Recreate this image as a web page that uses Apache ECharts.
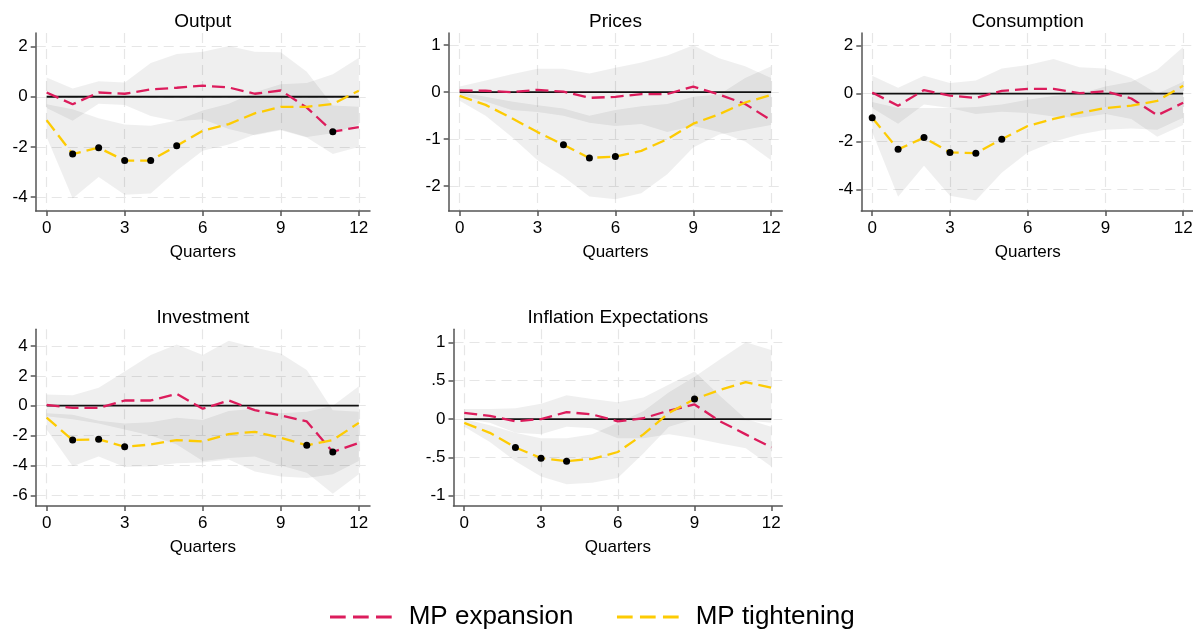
<!DOCTYPE html>
<html><head><meta charset="utf-8">
<script src="https://cdn.jsdelivr.net/npm/echarts@6/dist/echarts.min.js"></script>
<style>html,body{margin:0;padding:0;background:#fff}#c{width:1193px;height:629px}</style>
</head><body><div id="c"></div>
<script>
// ---------- data ----------
const quarters = [0,1,2,3,4,5,6,7,8,9,10,11,12];
const xTicks = [0,3,6,9,12];
const seriesNames = ['MP expansion', 'MP tightening'];

// Output
const out_exp    = [0.17,-0.30,0.17,0.12,0.29,0.36,0.44,0.37,0.12,0.25,-0.43,-1.39,-1.21];
const out_tig    = [-0.93,-2.28,-2.03,-2.54,-2.54,-1.95,-1.35,-1.09,-0.66,-0.40,-0.40,-0.29,0.24];
const out_exp_hi = [0.77,0.33,0.62,0.57,1.35,1.70,1.79,2.02,1.79,1.77,1.00,-0.35,-0.40];
const out_exp_lo = [-0.45,-0.96,-0.28,-0.33,-0.77,-0.98,-0.90,-1.28,-1.53,-1.33,-1.62,-2.28,-2.00];
const out_tig_hi = [-0.30,-0.50,-0.86,-1.10,-1.15,-0.95,-0.55,-0.28,0.18,0.50,0.55,0.90,1.55];
const out_tig_lo = [-1.60,-4.05,-3.20,-3.90,-3.85,-2.95,-2.15,-1.90,-1.50,-1.30,-1.60,-1.45,-1.10];
const out_sig_exp = [11];
const out_sig_tig = [1,2,3,4,5];
const out_yticks = [-4,-2,0,2];
const out_ylabels = ['-4','-2','0','2'];

// Prices
const pri_exp    = [0.04,0.03,0.00,0.05,0.01,-0.12,-0.10,-0.04,-0.04,0.12,-0.05,-0.25,-0.60];
const pri_tig    = [-0.08,-0.27,-0.55,-0.85,-1.12,-1.40,-1.37,-1.25,-1.00,-0.67,-0.47,-0.22,-0.06];
const pri_exp_hi = [0.12,0.25,0.38,0.50,0.50,0.40,0.52,0.63,0.78,1.00,0.72,0.55,0.30];
const pri_exp_lo = [-0.05,-0.20,-0.38,-0.42,-0.50,-0.65,-0.72,-0.68,-0.85,-0.72,-0.85,-1.05,-1.45];
const pri_tig_hi = [0.00,-0.10,-0.20,-0.28,-0.35,-0.50,-0.38,-0.30,-0.25,-0.10,-0.05,0.30,0.55];
const pri_tig_lo = [-0.18,-0.50,-0.95,-1.45,-1.80,-2.22,-2.28,-2.15,-1.75,-1.18,-0.90,-0.80,-0.70];
const pri_sig_exp = [];
const pri_sig_tig = [4,5,6];
const pri_yticks = [-2,-1,0,1];
const pri_ylabels = ['-2','-1','0','1'];

// Consumption
const con_exp    = [0.05,-0.50,0.15,-0.08,-0.18,0.12,0.20,0.20,0.02,0.10,-0.20,-0.90,-0.38];
const con_tig    = [-1.00,-2.32,-1.83,-2.45,-2.48,-1.90,-1.35,-1.05,-0.80,-0.60,-0.50,-0.30,0.33];
const con_exp_hi = [0.75,0.25,0.75,0.45,0.55,1.05,1.20,1.45,1.10,1.05,0.65,0.00,0.50];
const con_exp_lo = [-0.60,-1.25,-0.45,-0.60,-0.85,-0.75,-0.80,-0.95,-1.00,-0.85,-1.05,-1.80,-1.30];
const con_tig_hi = [-0.35,-0.60,-0.60,-0.60,-0.55,-0.45,-0.25,-0.10,0.00,0.30,0.50,1.00,1.95];
const con_tig_lo = [-1.60,-4.30,-3.00,-4.25,-4.45,-3.30,-2.45,-2.00,-1.70,-1.50,-1.45,-1.50,-1.00];
const con_sig_exp = [];
const con_sig_tig = [0,1,2,3,4,5];
const con_yticks = [-4,-2,0,2];
const con_ylabels = ['-4','-2','0','2'];

// Investment
const inv_exp    = [0.05,-0.15,-0.15,0.35,0.35,0.80,-0.20,0.35,-0.30,-0.65,-1.05,-3.10,-2.50];
const inv_tig    = [-0.80,-2.30,-2.25,-2.75,-2.60,-2.30,-2.40,-1.90,-1.75,-2.15,-2.65,-2.30,-1.15];
const inv_exp_hi = [0.75,0.70,1.20,2.30,3.40,4.10,3.40,4.35,3.90,3.50,2.40,-0.30,-0.40];
const inv_exp_lo = [-0.70,-0.90,-1.20,-1.60,-2.00,-2.60,-3.70,-3.50,-3.40,-4.00,-4.50,-5.90,-4.60];
const inv_tig_hi = [-0.50,-0.60,-1.00,-1.20,-1.10,-0.80,-0.95,-0.35,-0.20,-0.50,-0.40,0.00,1.30];
const inv_tig_lo = [-1.60,-4.05,-3.40,-4.10,-4.05,-3.85,-3.80,-3.60,-4.40,-4.75,-4.85,-4.60,-3.70];
const inv_sig_exp = [11];
const inv_sig_tig = [1,2,3,10];
const inv_yticks = [-6,-4,-2,0,2,4];
const inv_ylabels = ['-6','-4','-2','0','2','4'];

// Inflation Expectations
const inf_exp    = [0.08,0.04,-0.03,0.00,0.09,0.06,-0.03,0.01,0.11,0.19,-0.03,-0.20,-0.37];
const inf_tig    = [-0.05,-0.18,-0.37,-0.51,-0.55,-0.52,-0.43,-0.20,0.08,0.26,0.38,0.48,0.41];
const inf_exp_hi = [0.13,0.13,0.14,0.20,0.31,0.26,0.22,0.28,0.45,0.62,0.30,0.00,-0.10];
const inf_exp_lo = [0.00,-0.05,-0.18,-0.20,-0.10,-0.12,-0.25,-0.25,-0.20,-0.25,-0.32,-0.38,-0.62];
const inf_tig_hi = [0.00,-0.08,-0.18,-0.25,-0.25,-0.20,-0.05,0.10,0.35,0.55,0.78,1.00,0.90];
const inf_tig_lo = [-0.10,-0.30,-0.55,-0.75,-0.85,-0.83,-0.77,-0.45,-0.10,0.00,0.00,-0.02,-0.05];
const inf_sig_exp = [];
const inf_sig_tig = [2,3,4,9];
const inf_yticks = [-1,-0.5,0,0.5,1];
const inf_ylabels = ['-1','-.5','0','.5','1'];

// ---------- panel definitions ----------
const panels = [
  {title:'Output', exp:out_exp, tig:out_tig, expHi:out_exp_hi, expLo:out_exp_lo, tigHi:out_tig_hi, tigLo:out_tig_lo, sigExp:out_sig_exp, sigTig:out_sig_tig, yt:out_yticks, yl:out_ylabels},
  {title:'Prices', exp:pri_exp, tig:pri_tig, expHi:pri_exp_hi, expLo:pri_exp_lo, tigHi:pri_tig_hi, tigLo:pri_tig_lo, sigExp:pri_sig_exp, sigTig:pri_sig_tig, yt:pri_yticks, yl:pri_ylabels},
  {title:'Consumption', exp:con_exp, tig:con_tig, expHi:con_exp_hi, expLo:con_exp_lo, tigHi:con_tig_hi, tigLo:con_tig_lo, sigExp:con_sig_exp, sigTig:con_sig_tig, yt:con_yticks, yl:con_ylabels},
  {title:'Investment', exp:inv_exp, tig:inv_tig, expHi:inv_exp_hi, expLo:inv_exp_lo, tigHi:inv_tig_hi, tigLo:inv_tig_lo, sigExp:inv_sig_exp, sigTig:inv_sig_tig, yt:inv_yticks, yl:inv_ylabels},
  {title:'Inflation Expectations', exp:inf_exp, tig:inf_tig, expHi:inf_exp_hi, expLo:inf_exp_lo, tigHi:inf_tig_hi, tigLo:inf_tig_lo, sigExp:inf_sig_exp, sigTig:inf_sig_tig, yt:inf_yticks, yl:inf_ylabels}
];

// ---------- layout (pixels / axis extents) ----------
const layout = [
  {left:35.7,  top:33,    width:334.3, height:178,   yMin:-4.55, yMax:2.54},
  {left:448.7, top:33,    width:333.6, height:178,   yMin:-2.53, yMax:1.26},
  {left:861.3, top:33,    width:333,   height:178,   yMin:-4.89, yMax:2.53},
  {left:35.7,  top:329.3, width:334.3, height:176.7, yMin:-6.72, yMax:5.12},
  {left:453.5, top:329.3, width:328.8, height:176.7, yMin:-1.134, yMax:1.17}
];
const X_MIN = -0.42, X_MAX = 12.43;

const FONT = '"Liberation Sans", Arial, Helvetica, sans-serif';
const RED = '#dc1c5c';
const YEL = '#fdcb03';
const BAND = 'rgba(0,0,0,0.064)';
const DASH = [13, 6];
const GRIDC = '#e6e6e6';
const AXC = '#555555';

const grids = [], xAxes = [], yAxes = [], series = [], titles = [];

panels.forEach((p, i) => {
  const L = layout[i];
  grids.push({left:L.left, top:L.top, width:L.width, height:L.height, containLabel:false, outerBoundsMode:'none'});
  titles.push({
    text:p.title, left:L.left + L.width/2, top:L.top - 21, textAlign:'center', padding:0,
    textStyle:{fontFamily:FONT, fontSize:19, fontWeight:'normal', color:'#000'}
  });
  xAxes.push({
    type:'value', gridIndex:i, min:X_MIN, max:X_MAX,
    name:'Quarters', nameLocation:'middle', nameGap:33,
    nameTextStyle:{fontFamily:FONT, fontSize:17, color:'#000'},
    axisLine:{show:true, onZero:false, lineStyle:{color:AXC, width:1.5}},
    axisTick:{show:true, length:5, customValues:xTicks, lineStyle:{color:AXC, width:1.5}},
    axisLabel:{customValues:xTicks, fontFamily:FONT, fontSize:17, color:'#000', margin:9},
    splitLine:{show:true, lineStyle:{color:GRIDC, width:1.2, type:[10,6]}}
  });
  yAxes.push({
    type:'value', gridIndex:i, min:L.yMin, max:L.yMax,
    axisLine:{show:true, onZero:false, lineStyle:{color:AXC, width:1.5}},
    axisTick:{show:true, length:5, customValues:p.yt, lineStyle:{color:AXC, width:1.5}},
    axisLabel:{customValues:p.yt, fontFamily:FONT, fontSize:17, color:'#000', margin:8,
      formatter:(v) => { const k = p.yt.findIndex(t => Math.abs(t - v) < 1e-9); return k >= 0 ? p.yl[k] : ''; }},
    splitLine:{show:true, lineStyle:{color:GRIDC, width:1.2, type:[10,6]}}
  });
  // confidence band: polygon through (q, hi) forward and (q, lo) backward, via the axis scales
  const band = (lo, hi) => {
    series.push({
      type:'custom', xAxisIndex:i, yAxisIndex:i, silent:true, z:1, clip:true,
      data: quarters.map((q,k) => [q, lo[k], hi[k]]),
      renderItem:(params, api) => {
        if (params.dataIndex !== 0) return null;
        const pts = [];
        for (let k = 0; k < quarters.length; k++) pts.push(api.coord([quarters[k], hi[k]]));
        for (let k = quarters.length - 1; k >= 0; k--) pts.push(api.coord([quarters[k], lo[k]]));
        return {type:'polygon', shape:{points:pts}, style:{fill:BAND, stroke:null}};
      }
    });
  };
  band(p.expLo, p.expHi);
  band(p.tigLo, p.tigHi);
  series.push({
    type:'line', xAxisIndex:i, yAxisIndex:i, silent:true, symbol:'none',
    lineStyle:{color:'#111', width:1.8},
    data:[[quarters[0], 0], [quarters[quarters.length-1], 0]], z:3
  });
  series.push({
    name:seriesNames[0], type:'line', xAxisIndex:i, yAxisIndex:i, symbol:'none', color:RED,
    lineStyle:{color:RED, width:2.3, type:DASH}, data: quarters.map((q,k) => [q, p.exp[k]]), z:4
  });
  series.push({
    name:seriesNames[1], type:'line', xAxisIndex:i, yAxisIndex:i, symbol:'none', color:YEL,
    lineStyle:{color:YEL, width:2.3, type:DASH}, data: quarters.map((q,k) => [q, p.tig[k]]), z:4
  });
  const dots = p.sigTig.map(k => [quarters[k], p.tig[k]]).concat(p.sigExp.map(k => [quarters[k], p.exp[k]]));
  series.push({
    type:'scatter', xAxisIndex:i, yAxisIndex:i, symbol:'circle', symbolSize:7, silent:true,
    itemStyle:{color:'#000', opacity:1}, data:dots, z:5
  });
});

const chart = echarts.init(document.getElementById('c'), null, {renderer:'canvas'});
chart.setOption({
  animation:false,
  backgroundColor:'#fff',
  title:titles,
  grid:grids, xAxis:xAxes, yAxis:yAxes, series:series,
  legend:{
    data:seriesNames, left:330, top:604, padding:0, itemGap:43.5,
    itemWidth:61.7, itemHeight:3,
    icon:'path://M0,0H15.7V3H0Z M23,0H38.7V3H23Z M46,0H61.7V3H46Z',
    textStyle:{fontFamily:FONT, fontSize:26, color:'#000', padding:[0,0,0,12]}
  }
});
</script>
</body></html>
